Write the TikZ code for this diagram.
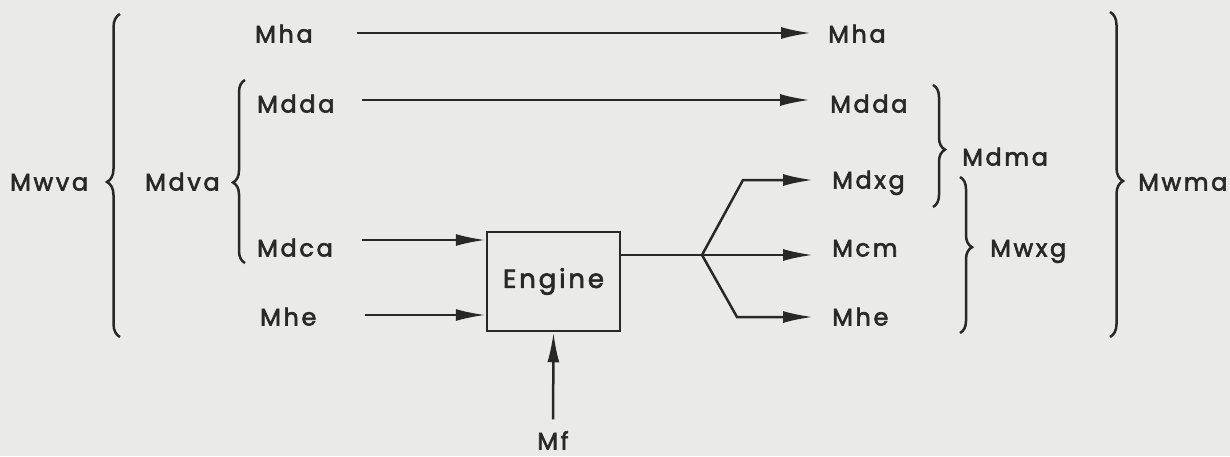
\documentclass[tikz,border=0pt]{standalone}
\usepackage{fontspec}
\setmainfont{Poppins}[LetterSpace=11,FakeBold=2.5]
\usetikzlibrary{arrows.meta,decorations.pathreplacing,calc}
\definecolor{paper}{RGB}{234,234,232}
\definecolor{ink}{RGB}{40,40,40}
\begin{document}
\begin{tikzpicture}[x=1pt,y=-1pt,
  lbl/.style={inner sep=0pt, anchor=west, text=ink, font=\fontsize{24}{28}\selectfont, text height=17pt, text depth=0pt},
  arr/.style={draw=ink, line width=2.5pt, -{Latex[length=30pt,width=12pt]}},
  ln/.style={draw=ink, line width=2.5pt},
  brc/.style={draw=ink, line width=2.5pt, decorate}]
\fill[paper] (0,0) rectangle (1230,456);
\useasboundingbox (0,0) rectangle (1230,456);
% left labels
\node[lbl] (mwva) at (10,182) {Mwva};
\node[lbl] (mdva) at (145,182) {Mdva};
\node[lbl] (mhaL) at (255,34) {Mha};
\node[lbl] (mddaL) at (257,104) {Mdda};
\node[lbl] (mdcaL) at (257,248) {Mdca};
\node[lbl] (mheL) at (260,317) {Mhe};
% engine
\node[draw=ink, line width=2.5pt, minimum width=133pt, minimum height=99pt, inner sep=0pt, text=ink, font=\fontsize{26}{30}\selectfont] (eng) at (553.5,281.5) {Engine};
\node[lbl, anchor=center] (mf) at (553,441) {Mf};
% right labels
\node[lbl] (mhaR) at (828,34) {Mha};
\node[lbl] (mddaR) at (830,104) {Mdda};
\node[lbl] (mdxgR) at (832,180) {Mdxg};
\node[lbl] (mcmR) at (832,248) {Mcm};
\node[lbl] (mheR) at (832,317) {Mhe};
\node[lbl] (mdma) at (962,157) {Mdma};
\node[lbl] (mwxg) at (990,248) {Mwxg};
\node[lbl] (mwma) at (1138,182) {Mwma};
% start points
\coordinate (s1) at (357,33);
\coordinate (s2) at (362,100);
\coordinate (s3) at (362,240);
\coordinate (s4) at (365,315);
\coordinate (split) at (702,255);
% straight arrows
\draw[arr, shorten >=17pt] (s1) -- (s1 -| mhaR.west);
\draw[arr, shorten >=20pt] (s2) -- (s2 -| mddaR.west);
\draw[arr] (s3) -- (s3 -| eng.west);
\draw[arr] (s4) -- (s4 -| eng.west);
\draw[arr, shorten <=13pt] (mf.north) -- (eng.south);
% output split
\draw[ln] (split -| eng.east) -- (split);
\draw[arr, shorten >=19pt] (split) -- ++(41,-75) -- (mdxgR.west);
\draw[arr, shorten >=19pt] (split) -- (split -| mcmR.west);
\draw[arr, shorten >=19pt] (split) -- ++(35,62) -- (mheR.west);
% braces
\draw[brc, decoration={brace, amplitude=13pt, aspect=0.48}] (120,337) -- (120,14);
\draw[brc, decoration={brace, amplitude=12pt, aspect=0.44}] (245,263) -- (245,80);
\draw[brc, decoration={brace, amplitude=12pt, aspect=0.53}] (933,85) -- (933,207);
\draw[brc, decoration={brace, amplitude=12pt, aspect=0.45}] (960,177) -- (960,333);
\draw[brc, decoration={brace, amplitude=13pt, aspect=0.52}] (1110,12) -- (1110,337);
\end{tikzpicture}
\end{document}
